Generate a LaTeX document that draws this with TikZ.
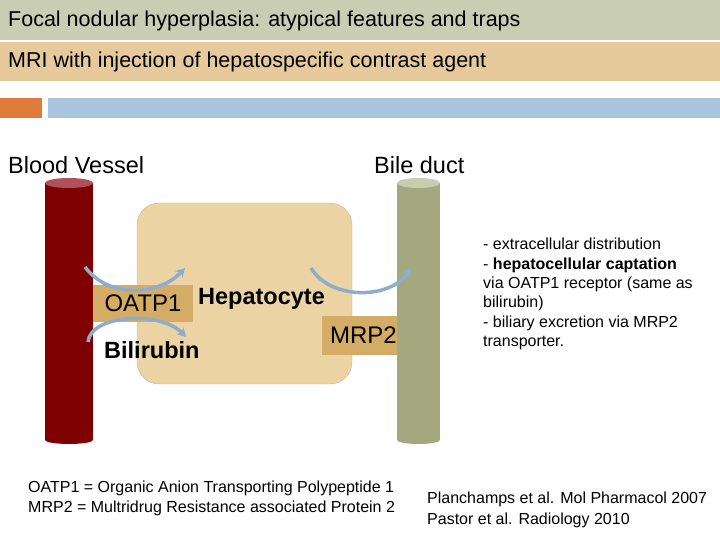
\documentclass[tikz,border=0pt]{standalone}
\usepackage{fontspec}
\setmainfont{Liberation Sans}
\usetikzlibrary{positioning,arrows.meta}
\definecolor{bandgray}{HTML}{C9CDB4}
\definecolor{bandtan}{HTML}{E6CA9B}
\definecolor{barorange}{HTML}{E07B39}
\definecolor{barblue}{HTML}{A9C5DE}
\definecolor{vessel}{HTML}{7E0000}
\definecolor{vesseltop}{HTML}{B0505A}
\definecolor{duct}{HTML}{A3A87E}
\definecolor{ducttop}{HTML}{C8CCB0}
\definecolor{cell}{HTML}{EBD3A3}
\definecolor{transp}{HTML}{D4AC65}
\definecolor{flow}{HTML}{8DADCB}
\tikzset{%
  band text/.style={anchor=west, font=\fontsize{21.5}{24}\selectfont, inner sep=0pt},
  big label/.style={anchor=west, font=\fontsize{23.5}{26}\selectfont, inner sep=0pt},
  transporter/.style={fill=transp, inner sep=0pt, font=\fontsize{24}{27}\selectfont},
  flux/.style={flow, line width=3.5pt, -{Stealth[length=9pt,width=10pt]}},
  note/.style={font=\fontsize{16}{19.4}\selectfont, align=left, inner sep=0pt}
}
\begin{document}
\begin{tikzpicture}[x=1pt,y=-1pt]
\useasboundingbox (0,0) rectangle (720,540);
% header bands
\fill[bandgray] (0,0) rectangle (720,40);
\fill[bandtan] (0,42) rectangle (720,81);
\fill[barorange] (0,98) rectangle (42,118);
\fill[barblue] (48,98) rectangle (720,118);
\node[band text] (title) at (8,21) {Focal nodular hyperplasia: atypical features and traps};
\node[band text] (subtitle) at (8,62) {MRI with injection of hepatospecific contrast agent};
% labels of the vessels
\node[big label] (bv) at (8,165) {Blood Vessel};
\node[big label] (bd) at (374,165) {Bile duct};
% hepatocyte
\fill[cell, draw=cell!70!gray, rounded corners=22pt] (137,203) rectangle (352,384);
% cylinders
\fill[vessel] (69,440) ellipse[x radius=24,y radius=4];
\fill[vessel] (45,183) rectangle (93,440);
\fill[vesseltop] (69,183) ellipse[x radius=24,y radius=5];
\fill[duct] (418.5,440) ellipse[x radius=21.5,y radius=4];
\fill[duct] (397,183) rectangle (440,440);
\fill[ducttop] (418.5,183) ellipse[x radius=21.5,y radius=5];
% transporters
\node[transporter, minimum width=100pt, minimum height=37pt] (oatp) at (143,303.5) {OATP1};
\node[transporter, minimum width=74pt, minimum height=39pt, anchor=east] (mrp) at (397,335.5) {\hspace*{8pt}MRP2};
\node[big label, font=\bfseries\fontsize{23.5}{26}\selectfont] (hep) at (198,299) {Hepatocyte};
\node[big label, font=\bfseries\fontsize{23.5}{26}\selectfont] (bili) at (104,350) {Bilirubin};
% fluxes
\coordinate (f1a) at (85,267); \coordinate (f1b) at (185,268);
\coordinate (f2a) at (88,342); \coordinate (f2b) at (186,337);
\coordinate (f3a) at (311,268); \coordinate (f3b) at (411,268);
\draw[flux] (f1a) .. controls (110,300) and (160,295) .. (f1b);
\draw[flux] (f2a) .. controls (90,315) and (160,310) .. (f2b);
\draw[flux] (f3a) .. controls (330,300) and (390,300) .. (f3b);
% notes
\node[note, anchor=north west] (mech) at (483,238) {- extracellular distribution\\- \textbf{hepatocellular captation}\\via OATP1 receptor (same as\\bilirubin)\\- biliary excretion via MRP2\\transporter.};
\node[note, anchor=north west] (abbr) at (28,481) {OATP1 = Organic Anion Transporting Polypeptide 1\\MRP2 = Multridrug Resistance associated Protein 2};
\node[note, anchor=north west, font=\fontsize{16}{20.5}\selectfont] (refs) at (427,492) {Planchamps et al. Mol Pharmacol 2007\\Pastor et al. Radiology 2010};
\end{tikzpicture}
\end{document}
